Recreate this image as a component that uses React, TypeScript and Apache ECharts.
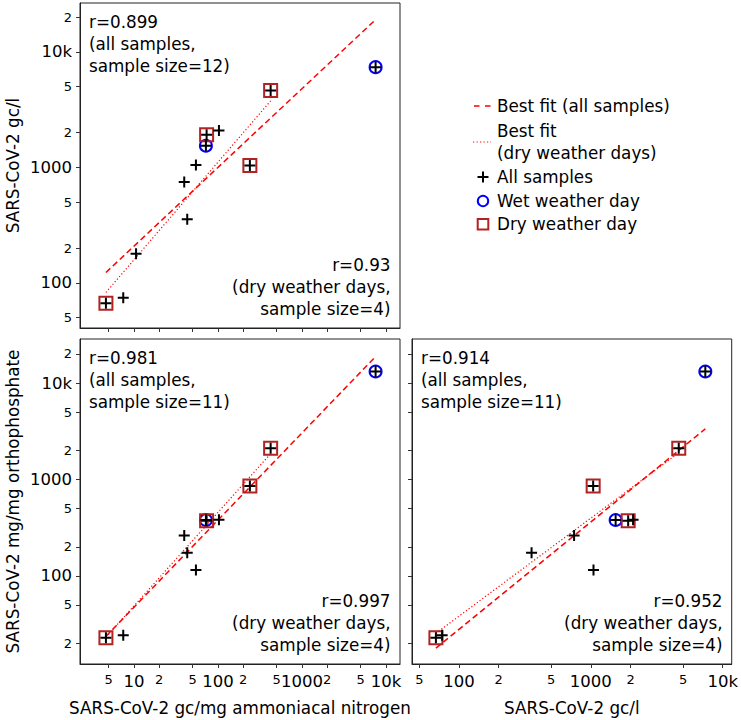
import React, { useEffect, useRef } from "react";
import * as echarts from "echarts";

// ---- data ----
// SARS-CoV-2 gc/mg ammoniacal nitrogen
const sampleN = [4.64, 7.46, 10.6, 43.1, 39.7, 54.7, 71.9, 73.3, 102.8, 240, 424, 7530];
// SARS-CoV-2 gc/l
const sampleC = [66.8, 74.5, 179, 355, 746, 1047, 1541, 1918, 2090, 1041, 4640, 7380];
// SARS-CoV-2 gc/mg orthophosphate (one sample missing)
const sampleP: (number | null)[] = [22.9, 24.2, null, 174, 263, 115, 380, 372, 382, 853, 2110, 13160];
// weather of each sample day ("" = not classified)
const weather = ["dry", "", "", "", "", "", "wet", "dry", "", "dry", "dry", "wet"];

// tick values
const ticksN = [5, 10, 20, 50, 100, 200, 500, 1000, 2000, 5000, 10000];
const ticksCy = [50, 100, 200, 500, 1000, 2000, 5000, 10000, 20000];
const ticksCx = [50, 100, 200, 500, 1000, 2000, 5000, 10000];
const ticksP = [20, 50, 100, 200, 500, 1000, 2000, 5000, 10000, 20000];

// annotation values
const rAll = ["0.899", "0.981", "0.914"];
const sizeAll = [12, 11, 11];
const rDry = ["0.93", "0.997", "0.952"];
const sizeDry = [4, 4, 4];

const FONT = "DejaVu Sans";
const FS = 16.8;
const RED = "#ff0000";
const BLUE = "#0000ff";
const BROWN = "#b22222";

function fitLine(xs: number[], ys: number[]) {
  const lx = xs.map((v) => Math.log10(v));
  const ly = ys.map((v) => Math.log10(v));
  const n = lx.length;
  const mx = lx.reduce((a, b) => a + b, 0) / n;
  const my = ly.reduce((a, b) => a + b, 0) / n;
  let sxy = 0;
  let sxx = 0;
  for (let i = 0; i < n; i++) {
    sxy += (lx[i] - mx) * (ly[i] - my);
    sxx += (lx[i] - mx) * (lx[i] - mx);
  }
  const b = sxy / sxx;
  const a = my - b * mx;
  const x0 = Math.min(...xs);
  const x1 = Math.max(...xs);
  return [
    [x0, Math.pow(10, a + b * Math.log10(x0))],
    [x1, Math.pow(10, a + b * Math.log10(x1))],
  ];
}

function fmtTick(v: number) {
  const e = Math.floor(Math.log10(v) + 1e-9);
  const m = Math.round(v / Math.pow(10, e));
  if (m === 1) {
    const r = Math.round(v);
    return "{maj|" + (r >= 10000 ? r / 1000 + "k" : String(r)) + "}";
  }
  return "{min|" + m + "}";
}

const rich = {
  maj: { fontSize: 16.5, fontFamily: FONT, color: "#000" },
  min: { fontSize: 13, fontFamily: FONT, color: "#000" },
};

function logAxis(
  gridIndex: number,
  min: number,
  max: number,
  ticks: number[],
  showLabels: boolean,
  name: string,
  nameGap: number,
  margin: number
) {
  return {
    type: "log",
    logBase: 10,
    gridIndex,
    min,
    max,
    name,
    nameLocation: "middle",
    nameGap,
    nameTextStyle: { fontFamily: FONT, fontSize: FS, color: "#000" },
    splitLine: { show: false },
    axisLine: { show: true, lineStyle: { color: "#222", width: 1 } },
    axisTick: { show: true, length: 4, customValues: ticks, lineStyle: { color: "#333", width: 1 } },
    axisLabel: {
      show: showLabels,
      customValues: ticks,
      formatter: fmtTick,
      rich,
      margin,
      color: "#000",
    },
  };
}

const plusPath = "path://M0,5L10,5M5,0L5,10";

function App() {
  const ref = useRef<HTMLDivElement>(null);
  useEffect(() => {
    if (!ref.current) return;
    const chart = echarts.init(ref.current, null, { renderer: "svg" });

    const panels = [
      { xs: sampleN, ys: sampleC as (number | null)[] },
      { xs: sampleN, ys: sampleP },
      { xs: sampleC, ys: sampleP },
    ];
    const series: any[] = [];
    panels.forEach((p, k) => {
      const idx = p.xs.map((_, i) => i).filter((i) => p.ys[i] != null);
      const all = idx.map((i) => [p.xs[i], p.ys[i] as number]);
      const dryIdx = idx.filter((i) => weather[i] === "dry");
      const wetIdx = idx.filter((i) => weather[i] === "wet");
      const fitAll = fitLine(idx.map((i) => p.xs[i]), idx.map((i) => p.ys[i] as number));
      const fitDry = fitLine(dryIdx.map((i) => p.xs[i]), dryIdx.map((i) => p.ys[i] as number));
      series.push(
        {
          type: "line",
          xAxisIndex: k,
          yAxisIndex: k,
          data: fitAll,
          showSymbol: false,
          symbol: "none",
          lineStyle: { color: RED, width: 1.5, type: [6, 3.5] },
          z: 2,
        },
        {
          type: "line",
          xAxisIndex: k,
          yAxisIndex: k,
          data: fitDry,
          showSymbol: false,
          symbol: "none",
          lineStyle: { color: RED, width: 1.2, type: [1.2, 2.2] },
          z: 2,
        },
        {
          type: "scatter",
          xAxisIndex: k,
          yAxisIndex: k,
          data: wetIdx.map((i) => [p.xs[i], p.ys[i]]),
          symbol: "circle",
          symbolSize: 12,
          itemStyle: { color: "rgba(0,0,0,0)", borderColor: BLUE, borderWidth: 2, opacity: 1 },
          z: 3,
        },
        {
          type: "scatter",
          xAxisIndex: k,
          yAxisIndex: k,
          data: dryIdx.map((i) => [p.xs[i], p.ys[i]]),
          symbol: "rect",
          symbolSize: 13,
          itemStyle: { color: "rgba(0,0,0,0)", borderColor: BROWN, borderWidth: 2, opacity: 1 },
          z: 3,
        },
        {
          type: "scatter",
          xAxisIndex: k,
          yAxisIndex: k,
          data: all,
          symbol: plusPath,
          symbolSize: 11,
          itemStyle: { color: "rgba(0,0,0,0)", borderColor: "#000", borderWidth: 2, opacity: 1 },
          z: 4,
        }
      );
    });

    const grids = [
      { left: 80, top: 3, width: 320, height: 325 },
      { left: 80, top: 339, width: 320, height: 325 },
      { left: 412, top: 339, width: 320, height: 325 },
    ];

    const txt = (x: number, y: number, text: string, align: string) => ({
      type: "text",
      x,
      y,
      silent: true,
      style: {
        text,
        fill: "#000",
        fontFamily: FONT,
        fontSize: FS,
        lineHeight: 22,
        align,
        verticalAlign: "top",
      },
    });

    const graphic: any[] = [];
    grids.forEach((g, k) => {
      graphic.push(
        txt(g.left + 9, g.top + 8, "r=" + rAll[k] + "\n(all samples,\nsample size=" + sizeAll[k] + ")", "left"),
        txt(
          g.left + g.width - 9.5,
          g.top + 251,
          "r=" + rDry[k] + "\n(dry weather days,\nsample size=" + sizeDry[k] + ")",
          "right"
        )
      );
    });

    // legend
    const lx = 474;
    const tx = 497;
    const mid = (x: number, y: number, text: string) => ({
      type: "text",
      x,
      y,
      silent: true,
      style: { text, fill: "#000", fontFamily: FONT, fontSize: FS, lineHeight: 22, align: "left", verticalAlign: "middle" },
    });
    graphic.push(
      { type: "line", shape: { x1: lx, y1: 106, x2: lx + 17, y2: 106 }, style: { stroke: RED, lineWidth: 1.5, lineDash: [5.5, 5.5] } },
      mid(tx, 106, "Best fit (all samples)"),
      { type: "line", shape: { x1: lx - 1, y1: 142, x2: lx + 17, y2: 142 }, style: { stroke: RED, lineWidth: 1.2, lineDash: [1.2, 2.3] } },
      mid(tx, 142, "Best fit\n(dry weather days)"),
      { type: "line", shape: { x1: 477.5, y1: 177, x2: 488.5, y2: 177 }, style: { stroke: "#000", lineWidth: 2 } },
      { type: "line", shape: { x1: 483, y1: 171.5, x2: 483, y2: 182.5 }, style: { stroke: "#000", lineWidth: 2 } },
      mid(tx, 177, "All samples"),
      { type: "circle", shape: { cx: 483, cy: 201, r: 5.2 }, style: { fill: "none", stroke: BLUE, lineWidth: 2 } },
      mid(tx, 201, "Wet weather day"),
      { type: "rect", shape: { x: 477.7, y: 219, width: 10.6, height: 10.6 }, style: { fill: "none", stroke: BROWN, lineWidth: 2 } },
      mid(tx, 224, "Dry weather day")
    );

    chart.setOption({
      animation: false,
      grid: grids.map((g) => ({ ...g, show: true, borderColor: "#222", borderWidth: 1, backgroundColor: "transparent" })),
      xAxis: [
        logAxis(0, 2.28, 14700, ticksN, false, "", 30, 8),
        logAxis(1, 2.28, 14700, ticksN, true, "SARS-CoV-2 gc/mg ammoniacal nitrogen", 35, 9),
        logAxis(2, 44, 11700, ticksCx, true, "SARS-CoV-2 gc/l", 35, 9),
      ],
      yAxis: [
        logAxis(0, 40.7, 26500, ticksCy, true, "SARS-CoV-2 gc/l", 59, 8),
        logAxis(1, 12.2, 28600, ticksP, true, "SARS-CoV-2 mg/mg orthophosphate", 59, 8),
        logAxis(2, 12.2, 28600, ticksP, false, "", 30, 8),
      ],
      series,
      graphic,
    });
    return () => chart.dispose();
  }, []);
  return (
    <div
      ref={ref}
      style={{ position: "absolute", left: 0, top: 0, width: 741, height: 720, background: "#fff" }}
    />
  );
}

export default App;
